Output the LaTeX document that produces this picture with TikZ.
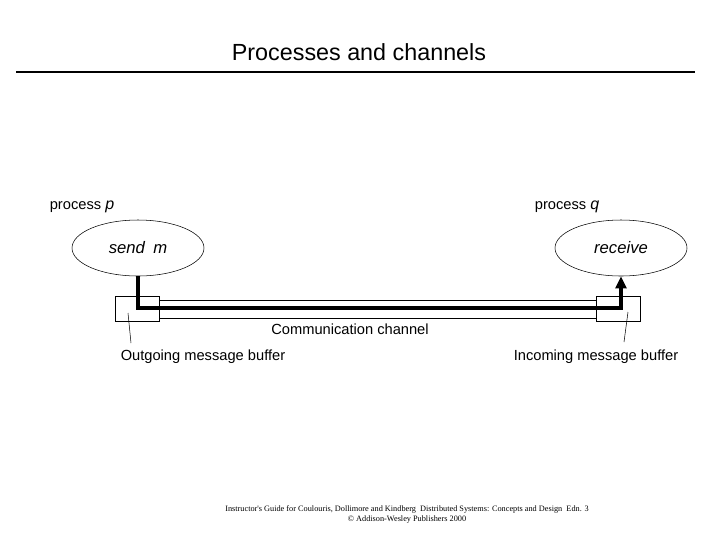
\documentclass[tikz,border=0pt]{standalone}
\usepackage{fontspec}
\setmainfont{Liberation Sans}
\newfontfamily\footfont{Liberation Serif}
\usetikzlibrary{shapes.geometric,arrows.meta}
\begin{document}
\begin{tikzpicture}[x=0.75pt,y=-0.75pt,
    proc/.style={draw,ellipse,minimum width=99pt,minimum height=42pt,font=\itshape\fontsize{12.5}{14}\selectfont},
    buf/.style={draw,minimum width=33pt,minimum height=19pt,inner sep=0pt},
    lbl/.style={font=\fontsize{11}{13}\selectfont,inner sep=0pt}]
        \useasboundingbox (0,0) rectangle (720,540);

        \node[font=\fontsize{17.5}{20}\selectfont] (title) at (359,52) {Processes and channels};
        \draw[line width=2.2pt] (16,72) -- (695,72);

        \node[lbl] (lp) at (82,207) {process \textit{\large p}};
        \node[lbl] (lq) at (567,207) {process \textit{\large q}};
        \node[proc] (send) at (138,248) {send\enspace m};
        \node[proc] (recv) at (621,248) {receive};

        \node[buf] (outbuf) at (137.5,308.5) {};
        \node[buf] (inbuf) at (618,308.5) {};

        % channel walls
        \draw (160,300) -- (596,300);
        \draw (160,318) -- (596,318);
        \draw[line width=2.6pt,-{Triangle[length=9pt,width=8pt]}]
            (send.south) |- (621,308) -- (recv.south);

        \node[lbl] (chan) at (350,329) {Communication channel};
        \node[lbl] (outl) at (203,357) {Outgoing message buffer};
        \node[lbl] (inl) at (596,357) {Incoming message buffer};
        \draw (128,313) -- (131,343);
        \draw (628,312) -- (624,342);

        \node[font=\footfont\fontsize{6.2}{7.5}\selectfont,align=center] (foot) at (407,514)
            {Instructor's Guide for Coulouris, Dollimore and Kindberg\enspace Distributed Systems: Concepts and Design\enspace Edn. 3\\
             \copyright\ Addison-Wesley Publishers 2000};
\end{tikzpicture}
\end{document}
